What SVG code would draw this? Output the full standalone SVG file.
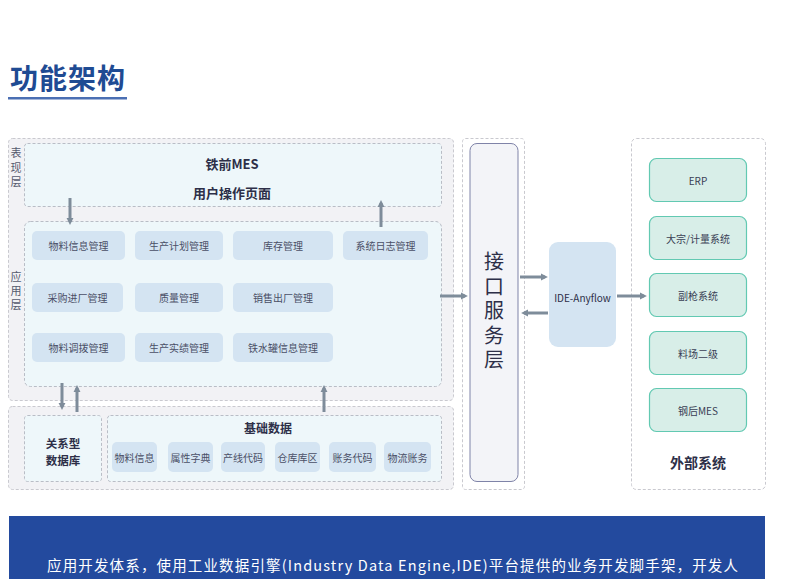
<svg xmlns="http://www.w3.org/2000/svg" width="806" height="579" viewBox="0 0 806 579">
<defs>
<style>
text{font-family:"Noto Sans CJK SC","Noto Sans",sans-serif;dominant-baseline:central;text-anchor:middle}
.outer{fill:#f2f2f5;stroke:#c9c9cf;stroke-width:1;stroke-dasharray:3 2}
.inner{fill:#eef7fa;stroke:#b9bdc6;stroke-width:1;stroke-dasharray:3 2}
.chip{fill:#d4e4f2}
.chipt{font-size:10px;fill:#4a4f66}
.ext{fill:#d8eee8;stroke:#62c9b2;stroke-width:1.2}
.extt{font-size:10px;fill:#3a3f55}
.lbl{font-size:11px;fill:#555a6e;writing-mode:vertical-rl;letter-spacing:3.3px}
.conn{stroke:#7e8c9a;stroke-width:3;fill:none}
.h{font-size:13px;fill:#2d2f48;font-weight:600}
</style>
<marker id="ah" viewBox="0 0 10 10" refX="6" refY="5" markerWidth="2.4" markerHeight="2.4" orient="auto">
<path d="M0,0 L10,5 L0,10 z" fill="#7e8c9a"/>
</marker>
</defs>
<rect width="806" height="579" fill="#ffffff"/>

<g id="title">
<text x="68" y="77" style="font-size:28px;font-weight:700;fill:#1f4b93;letter-spacing:1px">功能架构</text>
<rect x="8" y="97" width="119" height="2.5" fill="#4b6fb3"/>
</g>

<g id="layer-top">
<rect class="outer" x="8.5" y="138.5" width="445" height="262" rx="4"/>
<text class="lbl" x="16" y="169">表现层</text>
<text class="lbl" x="16" y="292.5">应用层</text>
</g>

<g id="presentation">
<rect class="inner" x="24.5" y="143.5" width="417" height="63" rx="3"/>
<text class="h" x="232" y="163">铁前MES</text>
<text class="h" x="232" y="192">用户操作页面</text>
</g>

<g id="application">
<rect class="inner" x="24.5" y="221.5" width="417" height="165" rx="6"/>
<g id="n-wlxx"><rect class="chip" x="32" y="231" width="93" height="29" rx="5"/><text class="chipt" x="78.5" y="245.5">物料信息管理</text></g>
<g id="n-scjh"><rect class="chip" x="135" y="231" width="88" height="29" rx="5"/><text class="chipt" x="179" y="245.5">生产计划管理</text></g>
<g id="n-kc"><rect class="chip" x="233" y="231" width="100" height="29" rx="5"/><text class="chipt" x="283" y="245.5">库存管理</text></g>
<g id="n-xtrz"><rect class="chip" x="343" y="231" width="85" height="29" rx="5"/><text class="chipt" x="385.5" y="245.5">系统日志管理</text></g>
<g id="n-cgjc"><rect class="chip" x="32" y="283" width="91" height="29" rx="5"/><text class="chipt" x="77.5" y="297.5">采购进厂管理</text></g>
<g id="n-zl"><rect class="chip" x="135" y="283" width="88" height="29" rx="5"/><text class="chipt" x="179" y="297.5">质量管理</text></g>
<g id="n-xscc"><rect class="chip" x="233" y="283" width="100" height="29" rx="5"/><text class="chipt" x="283" y="297.5">销售出厂管理</text></g>
<g id="n-wldb"><rect class="chip" x="32" y="333" width="93" height="29" rx="5"/><text class="chipt" x="78.5" y="347.5">物料调拨管理</text></g>
<g id="n-scsj"><rect class="chip" x="135" y="333" width="88" height="29" rx="5"/><text class="chipt" x="179" y="347.5">生产实绩管理</text></g>
<g id="n-tsg"><rect class="chip" x="233" y="333" width="100" height="29" rx="5"/><text class="chipt" x="283" y="347.5">铁水罐信息管理</text></g>
</g>

<g id="layer-bottom">
<rect class="outer" x="8.5" y="406.5" width="445" height="83" rx="4"/>
</g>

<g id="rdb">
<rect class="inner" x="24.5" y="415.5" width="77" height="66" rx="3"/>
<text class="h" x="63" y="443" style="font-size:11.5px">关系型</text>
<text class="h" x="63" y="460" style="font-size:11.5px">数据库</text>
</g>

<g id="basedata">
<rect class="inner" x="107.5" y="415.5" width="334" height="66" rx="3"/>
<text class="h" x="268" y="427" style="font-size:12px">基础数据</text>
<g id="b1"><rect class="chip" x="112" y="442" width="45" height="30" rx="5"/><text class="chipt" x="134.5" y="457">物料信息</text></g>
<g id="b2"><rect class="chip" x="168" y="442" width="45" height="30" rx="5"/><text class="chipt" x="190.5" y="457">属性字典</text></g>
<g id="b3"><rect class="chip" x="221" y="442" width="44" height="30" rx="5"/><text class="chipt" x="243" y="457">产线代码</text></g>
<g id="b4"><rect class="chip" x="275" y="442" width="45" height="30" rx="5"/><text class="chipt" x="297.5" y="457">仓库库区</text></g>
<g id="b5"><rect class="chip" x="329" y="442" width="47" height="30" rx="5"/><text class="chipt" x="352.5" y="457">账务代码</text></g>
<g id="b6"><rect class="chip" x="384" y="442" width="47" height="30" rx="5"/><text class="chipt" x="407.5" y="457">物流账务</text></g>
</g>

<g id="interface">
<rect x="462.5" y="138.5" width="62" height="351" rx="3" fill="#ffffff" stroke="#c9c9cf" stroke-dasharray="3 2"/>
<rect x="470" y="143.5" width="48" height="338" rx="7" fill="#f3f4f8" stroke="#7f83a8" stroke-width="1"/>
<text x="494" y="313" style="font-size:20px;fill:#2d2f48;writing-mode:vertical-rl;letter-spacing:4.5px">接口服务层</text>
</g>

<g id="ide">
<rect x="549" y="242" width="67" height="105" rx="9" fill="#d4e4f2"/>
<text x="582.5" y="297" style="font-size:10px;fill:#2d2f48">IDE-Anyflow</text>
</g>

<g id="external">
<rect x="631.5" y="138.5" width="134" height="351" rx="5" fill="#ffffff" stroke="#c9c9cf" stroke-dasharray="3 2"/>
<g id="e1"><rect class="ext" x="649.5" y="158.5" width="97" height="43" rx="7"/><text class="extt" x="698" y="180">ERP</text></g>
<g id="e2"><rect class="ext" x="649.5" y="216.5" width="97" height="43" rx="7"/><text class="extt" x="698" y="238">大宗/计量系统</text></g>
<g id="e3"><rect class="ext" x="649.5" y="273.5" width="97" height="43" rx="7"/><text class="extt" x="698" y="295">副枪系统</text></g>
<g id="e4"><rect class="ext" x="649.5" y="331.5" width="97" height="43" rx="7"/><text class="extt" x="698" y="353">料场二级</text></g>
<g id="e5"><rect class="ext" x="649.5" y="388.5" width="97" height="43" rx="7"/><text class="extt" x="698" y="410">钢后MES</text></g>
<text x="698" y="462" style="font-size:14px;font-weight:700;fill:#2d2f48">外部系统</text>
</g>

<g id="connectors">
<line class="conn" x1="70" y1="198" x2="70" y2="222" marker-end="url(#ah)"/>
<line class="conn" x1="381" y1="227" x2="381" y2="203" marker-end="url(#ah)"/>
<line class="conn" x1="62" y1="383" x2="62" y2="407" marker-end="url(#ah)"/>
<line class="conn" x1="77" y1="412" x2="77" y2="388" marker-end="url(#ah)"/>
<line class="conn" x1="324" y1="412" x2="324" y2="388" marker-end="url(#ah)"/>
<line class="conn" x1="440" y1="296" x2="465" y2="296" marker-end="url(#ah)"/>
<line class="conn" x1="520" y1="277" x2="545" y2="277" marker-end="url(#ah)"/>
<line class="conn" x1="548" y1="313" x2="524" y2="313" marker-end="url(#ah)"/>
<line class="conn" x1="617" y1="296" x2="644" y2="296" marker-end="url(#ah)"/>
</g>

<g id="banner">
<rect x="9" y="516" width="756" height="63" fill="#234a9e"/>
<text x="392.5" y="564" textLength="691" lengthAdjust="spacing" style="font-size:14.5px;fill:#ffffff">应用开发体系，使用工业数据引擎(Industry Data Engine,IDE)平台提供的业务开发脚手架，开发人</text>
</g>
</svg>
